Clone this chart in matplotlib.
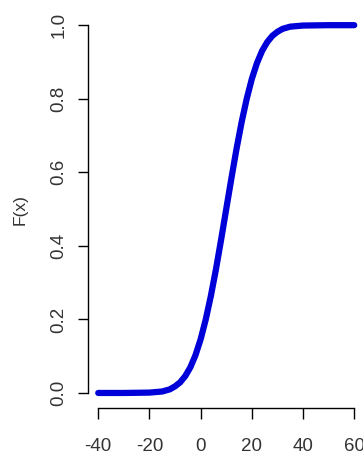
import matplotlib
matplotlib.use("Agg")
import matplotlib.pyplot as plt

# values
x_vals = [-40, -30, -20, -15, -12, -10, -8, -6, -4, -2, 0, 2, 4, 6, 8, 10,
          12, 14, 16, 18, 20, 22, 24, 26, 28, 30, 32, 35, 40, 50, 60]
f_vals = [0.0, 0.0, 0.001, 0.004, 0.010, 0.018, 0.029, 0.046, 0.070, 0.103,
          0.146, 0.200, 0.264, 0.337, 0.417, 0.500, 0.583, 0.663, 0.736,
          0.800, 0.854, 0.897, 0.930, 0.954, 0.971, 0.982, 0.990, 0.996,
          0.999, 1.0, 1.0]

x_ticks = [-40, -20, 0, 20, 40, 60]
y_ticks = [0.0, 0.2, 0.4, 0.6, 0.8, 1.0]
y_labels = ["0.0", "0.2", "0.4", "0.6", "0.8", "1.0"]

plt.rcParams['font.family'] = ['Liberation Sans', 'DejaVu Sans']

fig = plt.figure(figsize=(3.63, 4.55), dpi=100)
ax = fig.add_axes([0.2424, 0.104, 0.7617, 0.873])

ax.plot(x_vals, f_vals, color='#0000d8', lw=4.5, solid_capstyle='round')

ax.set_xlim(-44, 64)
ax.set_ylim(-0.04, 1.04)

for s in ['top', 'right']:
    ax.spines[s].set_visible(False)
ax.spines['left'].set_bounds(0, 1)
ax.spines['bottom'].set_bounds(-40, 60)
ax.spines['left'].set_linewidth(1.0)
ax.spines['bottom'].set_linewidth(1.0)

ax.set_xticks(x_ticks)
ax.set_xticklabels([str(t) for t in x_ticks])
ax.set_yticks(y_ticks)
ax.set_yticklabels(y_labels, rotation=90, va='center')

ax.tick_params(axis='x', length=8, width=1, pad=14, labelsize=13.5, labelcolor='#333333')
ax.tick_params(axis='y', length=7, width=1, pad=8, labelsize=13.5, labelcolor='#333333')

ax.set_ylabel("F(x)", fontsize=12.5, color='#333333', labelpad=16)

fig.savefig("out.png", dpi=100)
